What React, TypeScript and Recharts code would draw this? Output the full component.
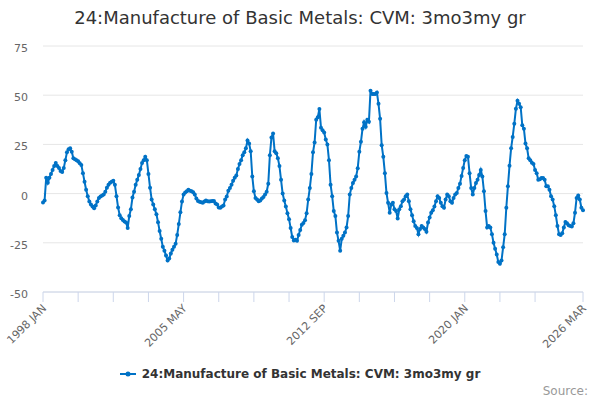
import React from 'react';
import { LineChart, Line, XAxis, YAxis, CartesianGrid } from 'recharts';

const TITLE = '24:Manufacture of Basic Metals: CVM: 3mo3my gr';
const SERIES_NAME = '24:Manufacture of Basic Metals: CVM: 3mo3my gr';
const LINE_COLOR = '#0072c6';

const MONTHS = ['JAN', 'FEB', 'MAR', 'APR', 'MAY', 'JUN', 'JUL', 'AUG', 'SEP', 'OCT', 'NOV', 'DEC'];
const START_YEAR = 1998;

// monthly values, one array per year
const v1998 = [-4.5, -3.5, 8, 5.5, 8, 10, 12, 14, 15.5, 14, 13, 11.5];
const v1999 = [11, 13, 17, 21, 22.5, 23, 21.3, 18, 17.4, 17, 16.5, 15.4];
const v2000 = [14.5, 10.4, 6, 2, -1.3, -4, -5.5, -6.5, -7.5, -6, -4, -2.2];
const v2001 = [-1.5, -1, -0.5, 1, 3, 4.5, 5.5, 6, 6.5, 4.5, -1.3, -7];
const v2002 = [-11, -12.5, -13.4, -14.2, -14.7, -17.5, -11.4, -8, -2, 1, 4.5, 7];
const v2003 = [9.5, 12.5, 15.5, 17, 18.7, 17, 10, 3, -3, -5.5, -8, -10.5];
const v2004 = [-14.5, -19, -23, -27, -29, -31.5, -34, -33, -30.5, -28.5, -27, -25.5];
const v2005 = [-21, -15.5, -9.5, -4, -0.5, 0.5, 1.2, 2, 1.5, 1.2, 0.7, -0.5];
const v2006 = [-2.5, -3.8, -4.2, -4.4, -4.7, -4, -3.5, -3.9, -4, -3.9, -3.7, -3.7];
const v2007 = [-5, -5.5, -7, -7.2, -6.5, -6, -3, -1.5, 1.5, 2.8, 4.5, 6.5];
const v2008 = [8, 9.2, 12.5, 15, 17, 19.5, 21, 23, 27, 25.5, 21.5, 8.7];
const v2009 = [1.2, -2.2, -3, -3.9, -3.5, -2.5, -1.7, -0.5, 1, 5, 19.5, 28.5];
const v2010 = [30.5, 21.5, 20.5, 18, 14, 7, 0, -3.5, -6.5, -10, -13, -17.5];
const v2011 = [-22, -23.8, -23.5, -24, -21, -18.5, -15.8, -15, -13.5, -10, -3, 2.8];
const v2012 = [10, 21, 26, 37.5, 38.8, 43, 33.5, 32.2, 31, 27.5, 25, 17];
const v2013 = [4.5, -1.3, -8.9, -11.4, -19.8, -24, -29, -23, -21.4, -19.8, -17.2, -11.4];
const v2014 = [-0.5, 2.8, 5.4, 7, 8.7, 12.9, 21.3, 26.3, 33, 36.3, 34, 37.5];
const v2015 = [36.5, 52.3, 50.6, 50.6, 50.6, 51.4, 45.6, 38, 24.6, 18.7, 10.4, 0.3];
const v2016 = [-4.7, -9.7, -5.5, -4.7, -8, -8.9, -12.7, -8, -6.4, -3.9, -3, -1.3];
const v2017 = [-0.5, -3.9, -8, -11, -14, -16.5, -17.5, -20.6, -18, -16.4, -17.2, -18];
const v2018 = [-19.4, -14.7, -12.2, -9.7, -8.5, -6.5, -3.9, -1.3, -2.2, -4.7, -6.4, -7.2];
const v2019 = [-3, -0.5, -1.3, -3.9, -4.7, -2.2, -0.5, 0.3, 2.8, 5, 9, 13];
const v2020 = [17, 19.1, 18.7, 10.4, 2.8, -0.5, 2.8, 5.4, 7, 9.5, 12, 8.7];
const v2021 = [1.2, -8.9, -17.2, -16.4, -17.2, -20.6, -25, -28, -31, -34.8, -35.7, -34];
const v2022 = [-27.3, -20.6, -7.2, 3.7, 14.1, 23, 28.8, 35.5, 43.1, 47.2, 45.6, 43.9];
const v2023 = [34.7, 33, 25.5, 23, 17.9, 17, 15.7, 15.1, 12, 10.4, 7, 7.3];
const v2024 = [7.9, 7.9, 7, 3.7, 3.7, 2, -1.3, -3, -6.4, -11, -16.4, -20.6];
const v2025 = [-21, -20.1, -17.2, -14.4, -15.1, -16.1, -16.4, -16.7, -15.1, -9.7, -2.2, -1];
const v2026 = [-3, -7.2, -8.4];

const values = [
  ...v1998, ...v1999, ...v2000, ...v2001, ...v2002, ...v2003, ...v2004, ...v2005,
  ...v2006, ...v2007, ...v2008, ...v2009, ...v2010, ...v2011, ...v2012, ...v2013,
  ...v2014, ...v2015, ...v2016, ...v2017, ...v2018, ...v2019, ...v2020, ...v2021,
  ...v2022, ...v2023, ...v2024, ...v2025, ...v2026,
];

const monthLabels = values.map(
  (_, i) => `${START_YEAR + Math.floor(i / 12)} ${MONTHS[i % 12]}`
);

const tickLabels = ['1998 JAN', '2005 MAY', '2012 SEP', '2020 JAN', '2026 MAR'];
const yTicks = [-50, -25, 0, 25, 50, 75];
const TICK_STEP = 22; // minor tick every 22 months

const data = values.map((v, i) => ({ t: i, month: monthLabels[i], value: v }));

const lastIdx = values.length - 1;
const xTicks: number[] = [];
for (let i = 0; i + TICK_STEP <= lastIdx; i += TICK_STEP) xTicks.push(i);
xTicks.push(lastIdx);

const labelAt: Record<number, string> = {};
tickLabels.forEach((l) => {
  labelAt[monthLabels.indexOf(l)] = l;
});

const FONT = '"DejaVu Sans", Verdana, sans-serif';

// eslint-disable-next-line @typescript-eslint/no-explicit-any
const XTick = ({ x, y, payload }: any) => {
  const label = labelAt[payload.value];
  if (!label) return <g />;
  const tx = x + 4;
  const ty = y + 5;
  return (
    <text
      x={tx}
      y={ty}
      textAnchor="end"
      fontSize={11}
      fontFamily={FONT}
      fill="#666"
      transform={`rotate(-45 ${tx} ${ty})`}
    >
      {label}
    </text>
  );
};

// eslint-disable-next-line @typescript-eslint/no-explicit-any
const YTick = ({ x, y, payload }: any) => (
  <text x={x} y={y + 6} textAnchor="end" fontSize={11} fontFamily={FONT} fill="#666">
    {payload.value}
  </text>
);

export default function App() {
  return (
    <div
      style={{
        position: 'absolute',
        left: 0,
        top: 0,
        width: 600,
        height: 400,
        background: '#fff',
        fontFamily: FONT,
      }}
    >
      <div
        style={{
          position: 'absolute',
          top: 6,
          left: 0,
          width: 600,
          textAlign: 'center',
          fontSize: 18,
          lineHeight: '24px',
          color: '#333',
        }}
      >
        {TITLE}
      </div>

      <LineChart
        width={600}
        height={400}
        data={data}
        margin={{ top: 46, right: 17, bottom: 0, left: 0 }}
      >
        <CartesianGrid vertical={false} stroke="#e6e6e6" />
        <XAxis
          dataKey="t"
          type="number"
          domain={[0, lastIdx]}
          ticks={xTicks}
          interval={0}
          height={108}
          tickSize={10}
          tickMargin={2}
          axisLine={{ stroke: '#ccd6eb' }}
          tickLine={{ stroke: '#ccd6eb' }}
          tick={<XTick />}
        />
        <YAxis
          domain={[-50, 75]}
          ticks={yTicks}
          width={43}
          axisLine={false}
          tickLine={false}
          tickSize={0}
          tickMargin={15}
          tick={<YTick />}
        />
        <Line
          type="linear"
          dataKey="value"
          name={SERIES_NAME}
          stroke={LINE_COLOR}
          strokeWidth={2}
          dot={{ r: 2, fill: LINE_COLOR, stroke: LINE_COLOR, strokeWidth: 0 }}
          isAnimationActive={false}
        />
      </LineChart>

      <div
        style={{
          position: 'absolute',
          top: 367,
          left: 0,
          width: 600,
          display: 'flex',
          justifyContent: 'center',
          alignItems: 'center',
          fontSize: 12,
          fontWeight: 'bold',
          color: '#333',
        }}
      >
        <svg width={16} height={12} style={{ marginRight: 6 }}>
          <line x1={0} y1={6} x2={16} y2={6} stroke={LINE_COLOR} strokeWidth={2} />
          <circle cx={8} cy={6} r={2.5} fill={LINE_COLOR} />
        </svg>
        <span>{SERIES_NAME}</span>
      </div>

      <div
        style={{
          position: 'absolute',
          top: 384,
          right: 12,
          fontSize: 12,
          color: '#999',
        }}
      >
        Source:
      </div>
    </div>
  );
}
